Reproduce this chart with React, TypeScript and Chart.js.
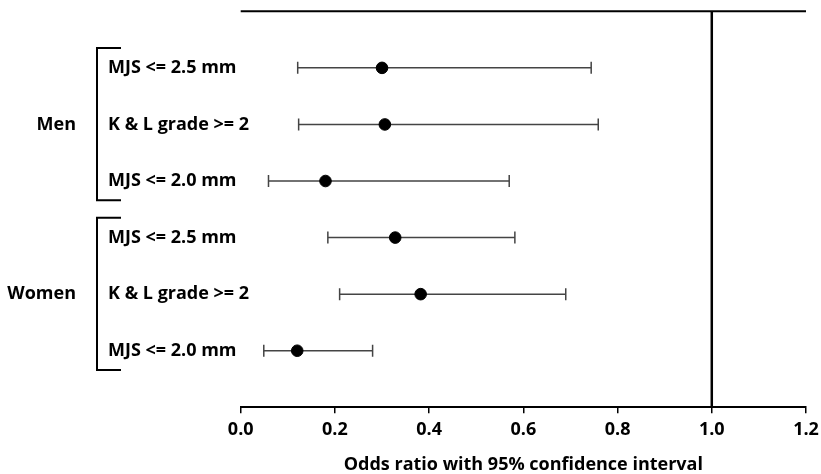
import React, { useEffect, useRef } from 'react';
import { Chart, registerables } from 'chart.js';
Chart.register(...registerables);

const groupLabels = ['Men', 'Women'];
const rowLabels = ['MJS <= 2.5 mm', 'K & L grade >= 2', 'MJS <= 2.0 mm', 'MJS <= 2.5 mm', 'K & L grade >= 2', 'MJS <= 2.0 mm'];
const rowGroup = [0, 0, 0, 1, 1, 1];
const oddsRatio = [0.300, 0.306, 0.180, 0.328, 0.382, 0.120];
const ciLow = [0.121, 0.123, 0.059, 0.185, 0.210, 0.049];
const ciHigh = [0.744, 0.759, 0.570, 0.582, 0.690, 0.280];
const xTicks = [0, 0.2, 0.4, 0.6, 0.8, 1.0, 1.2];
const referenceValue = 1.0;
const axisTitle = 'Odds ratio with 95% confidence interval';

const FONT = '"Open Sans", "DejaVu Sans", sans-serif';
const FS = 18;

const forestPlugin = {
  id: 'forest',
  beforeDatasetsDraw(chart: any) {
    const { ctx, scales } = chart;
    const x = scales.x, y = scales.y;
    ctx.save();
    ctx.strokeStyle = '#444';
    ctx.lineWidth = 1.5;
    for (let i = 0; i < oddsRatio.length; i++) {
      const py = y.getPixelForValue(i + 1);
      const x0 = x.getPixelForValue(ciLow[i]);
      const x1 = x.getPixelForValue(ciHigh[i]);
      ctx.beginPath();
      ctx.moveTo(x0, py); ctx.lineTo(x1, py);
      ctx.moveTo(x0, py - 6); ctx.lineTo(x0, py + 6);
      ctx.moveTo(x1, py - 6); ctx.lineTo(x1, py + 6);
      ctx.stroke();
    }
    ctx.restore();
  },
  afterDraw(chart: any) {
    const { ctx, scales, chartArea } = chart;
    const x = scales.x, y = scales.y;
    ctx.save();
    ctx.strokeStyle = '#000';
    ctx.lineWidth = 2;
    ctx.beginPath();
    ctx.moveTo(chartArea.left, chartArea.top);
    ctx.lineTo(chartArea.right, chartArea.top);
    ctx.stroke();
    const rx = x.getPixelForValue(referenceValue);
    ctx.beginPath();
    ctx.lineWidth = 2.5;
    ctx.moveTo(rx, chartArea.top);
    ctx.lineTo(rx, chartArea.bottom);
    ctx.stroke();
    ctx.fillStyle = '#000';
    ctx.font = `bold ${FS}px ${FONT}`;
    ctx.textBaseline = 'middle';
    ctx.textAlign = 'left';
    rowLabels.forEach((lab, i) => {
      ctx.fillText(lab, 108, y.getPixelForValue(i + 1));
    });
    groupLabels.forEach((g, gi) => {
      const idx = rowGroup.map((v, i) => (v === gi ? i : -1)).filter((v) => v >= 0);
      const first = idx[0] + 1, last = idx[idx.length - 1] + 1;
      const mid = (first + last) / 2;
      ctx.textAlign = 'right';
      ctx.fillText(g, 76, y.getPixelForValue(mid));
      const top = y.getPixelForValue(first - 0.35);
      const bot = y.getPixelForValue(last + 0.34);
      ctx.lineWidth = 2;
      ctx.beginPath();
      ctx.moveTo(121, top);
      ctx.lineTo(97, top);
      ctx.lineTo(97, bot);
      ctx.lineTo(121, bot);
      ctx.stroke();
    });
    ctx.restore();
  },
};

export default function App() {
  const ref = useRef<HTMLCanvasElement>(null);
  useEffect(() => {
    if (!ref.current) return;
    const chart = new Chart(ref.current, {
      type: 'scatter',
      data: {
        datasets: [
          {
            data: oddsRatio.map((v, i) => ({ x: v, y: i + 1 })),
            backgroundColor: '#000',
            borderColor: '#000',
            pointRadius: 5.8,
            pointHoverRadius: 5.8,
          },
        ],
      },
      options: {
        animation: false,
        responsive: false,
        layout: { padding: { left: 240.7, right: 15, top: 11.3, bottom: 0 } },
        plugins: { legend: { display: false }, tooltip: { enabled: false } },
        scales: {
          x: {
            type: 'linear',
            min: 0,
            max: 1.2,
            afterBuildTicks: (s: any) => {
              s.ticks = xTicks.map((v) => ({ value: v }));
            },
            afterFit: (s: any) => {
              s.height = 66.7;
              s.paddingLeft = 0;
              s.paddingRight = 0;
            },
            ticks: {
              color: '#000',
              font: { family: FONT, size: FS, weight: 'bold' },
              padding: 6,
              autoSkip: false,
              maxRotation: 0,
              callback: (v: any) => Number(v).toFixed(1),
            },
            grid: { drawOnChartArea: false, drawTicks: true, tickLength: 6, color: '#000', lineWidth: 1.5 },
            border: { display: true, color: '#000', width: 2 },
            title: {
              display: true,
              text: axisTitle,
              color: '#000',
              font: { family: FONT, size: FS, weight: 'bold' },
              padding: { top: 0, bottom: -2 },
            },
          },
          y: { type: 'linear', min: 0, max: 7, reverse: true, display: false },
        },
      },
      plugins: [forestPlugin],
    } as any);
    return () => chart.destroy();
  }, []);
  return (
    <div style={{ position: 'absolute', left: 0, top: 0, width: 821, height: 474, background: '#fff' }}>
      <canvas ref={ref} width={821} height={474} style={{ display: 'block' }} />
    </div>
  );
}
